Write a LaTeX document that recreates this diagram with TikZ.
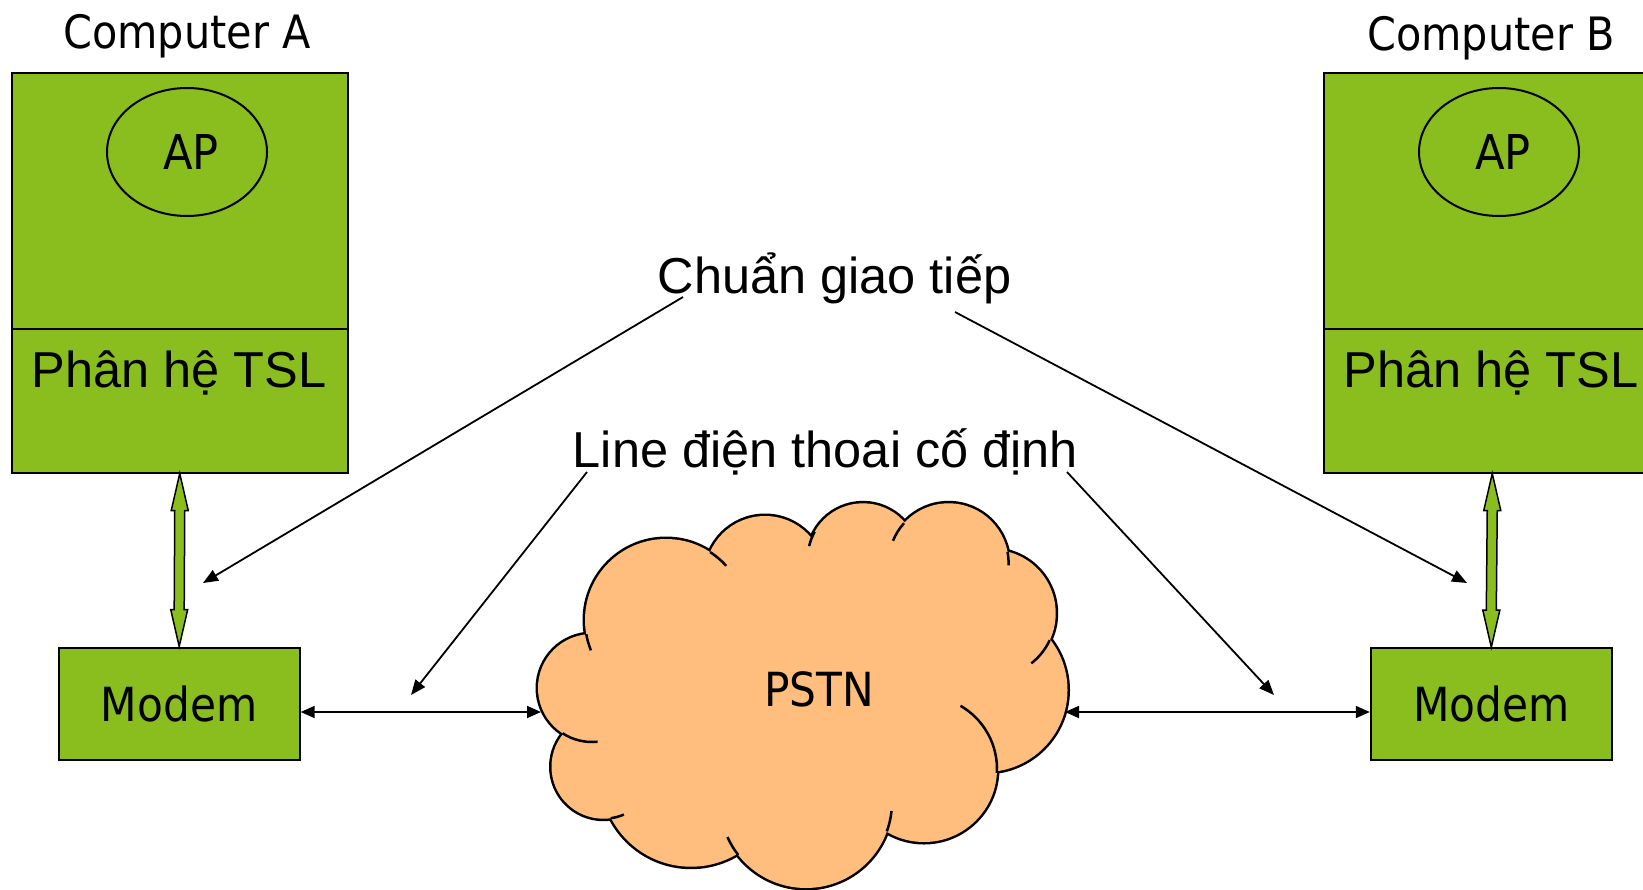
\documentclass[tikz,border=0pt]{standalone}
\usepackage{fontspec}
\setmainfont{Liberation Sans}
\newfontfamily\tahoma{DejaVu Sans Condensed}
\usetikzlibrary{arrows.meta,calc,shapes.geometric}

\definecolor{leaf}{RGB}{137,190,30}
\definecolor{peach}{RGB}{255,190,125}

\begin{document}
\begin{tikzpicture}[x=1pt,y=-1pt,
  panel/.style={draw=black, line width=2pt, fill=leaf, inner sep=0pt},
  modembox/.style={panel, minimum width=241pt, minimum height=112pt,
    font=\tahoma\fontsize{47}{52}\selectfont},
  appnode/.style={ellipse, draw=black, line width=2pt, inner sep=0pt,
    minimum width=160pt, minimum height=128pt, font=\tahoma\fontsize{48}{52}\selectfont},
  hosttitle/.style={anchor=base, inner sep=0pt, font=\tahoma\fontsize{46}{52}\selectfont},
  vtext/.style={anchor=base, inner sep=0pt, font=\fontsize{50.5}{58}\selectfont},
  link/.style={line width=1.8pt, -{Triangle[length=15pt,width=12pt]}},
  duplex/.style={line width=1.8pt, {Triangle[length=14pt,width=12pt]}-{Triangle[length=14pt,width=12pt]}},
  busarrow/.style={draw=black, line width=1.5pt, fill=leaf, line join=miter},
  puff/.style={draw=black, line width=5pt},
  seam/.style={draw=black, line width=2.5pt}]

\useasboundingbox (0,0) rectangle (1643,889);
\clip (0,0) rectangle (1643,889);

% ---------------- Computer A ----------------
\node[hosttitle] (nameA) at (187,48) {Computer A};
\node[panel, minimum width=336.5pt, minimum height=256.5pt, anchor=north west] (hostA) at (10.5,71.5) {};
\node[panel, minimum width=336.5pt, minimum height=143.5pt, anchor=north west] (tslA) at (10.5,328) {};
\node[appnode] (apA) at (187,152) {\kern8pt AP};
\node[vtext] (tslAtxt) at (179,387) {Phân hệ TSL};
\node[modembox] (modemA) at (179.2,703.5) {Modem};

% ---------------- Computer B ----------------
\node[hosttitle] (nameB) at (1491,50) {Computer B};
\node[panel, minimum width=336.5pt, minimum height=256.5pt, anchor=north west] (hostB) at (1323,71.5) {};
\node[panel, minimum width=336.5pt, minimum height=143.5pt, anchor=north west] (tslB) at (1323,328) {};
\node[appnode] (apB) at (1499,152) {\kern8pt AP};
\node[vtext] (tslBtxt) at (1491,387) {Phân hệ TSL};
\node[modembox] (modemB) at (1491.3,704.2) {Modem};

% ---------------- TSL <-> modem block arrows ----------------
\foreach \top/\bot in {tslA/modemA, tslB/modemB}{
  \draw[busarrow] (\top.south) -- ++(8.5,37) -- ++(-3.5,0)
    -- ($(\bot.north)+(5,-37)$) -- ++(3.5,0) -- (\bot.north)
    -- ++(-8.5,-37) -- ++(3.5,0)
    -- ($(\top.south)+(-5,37)$) -- ++(-3.5,0) -- cycle;
}

% ---------------- PSTN cloud ----------------
% outline: thick strokes, then fills hide the inner half
\foreach \cx/\cy/\r in {592/688/54, 666/620/81, 765/576/60, 863/558.6/55.3,
    948.6/563.3/60, 992.2/613.3/63.5, 985.5/690/82, 924/769/73,
    806/802/86, 691/776.7/90, 603.5/766.7/52}{
  \path[puff] (\cx,\cy) circle[radius=\r];
}
\foreach \cx/\cy/\r in {592/688/54, 666/620/81, 765/576/60, 863/558.6/55.3,
    948.6/563.3/60, 992.2/613.3/63.5, 985.5/690/82, 924/769/73,
    806/802/86, 691/776.7/90, 603.5/766.7/52}{
  \fill[peach] (\cx,\cy) circle[radius=\r];
}
\fill[peach] (609.1,639) -- (719.9,564) -- (813.1,547.5) -- (893.5,540)
  -- (986.8,565.5) -- (1025.4,645) -- (977.1,765) -- (879.1,817.5)
  -- (747.3,835.5) -- (629.9,805.5) -- (586.6,727.5) -- cycle;
% inner seams of the puffs
\foreach \cx/\cy/\r/\a/\b in {666/620/81/170/158, 592/688/54/123/84,
    603.5/766.7/52/82/67, 806/802/86/142/156, 806/802/86/20/6,
    924/769/73/3/-60, 992.2/613.3/63.5/25/52, 948.6/563.3/60/-11/2,
    948.6/563.3/60/222/202, 863/558.6/55.3/209/193, 666/620/81/-57/-42}{
  \draw[seam] (\cx,\cy) ++(\a:\r) arc[start angle=\a, end angle=\b, radius=\r];
}
\node[anchor=base, inner sep=0pt, font=\tahoma\fontsize{47}{52}\selectfont] (pstn) at (819,706) {PSTN};
\coordinate (pstnW) at (541,712);
\coordinate (pstnE) at (1065,712);

% ---------------- line links ----------------
\draw[duplex] (modemA.east |- pstnW) -- (pstnW);
\draw[duplex] (pstnE) -- (modemB.west |- pstnE);

% ---------------- labels and pointers ----------------
\node[vtext] (std) at (834.5,293) {Chuẩn giao tiếp};
\node[vtext] (pots) at (825.5,467) {Line điện thoai cố định};

\coordinate (stdL) at (683,297);
\coordinate (stdR) at (955,312);
\coordinate (stdLend) at (203,583);
\coordinate (stdRend) at (1467,583);
\coordinate (potsL) at (587,472);
\coordinate (potsR) at (1067,472);
\coordinate (potsLend) at (411,695);
\coordinate (potsRend) at (1274,695);

\draw[link] (stdL) -- (stdLend);
\draw[link] (stdR) -- (stdRend);
\draw[link] (potsL) -- (potsLend);
\draw[link] (potsR) -- (potsRend);
\end{tikzpicture}
\end{document}
